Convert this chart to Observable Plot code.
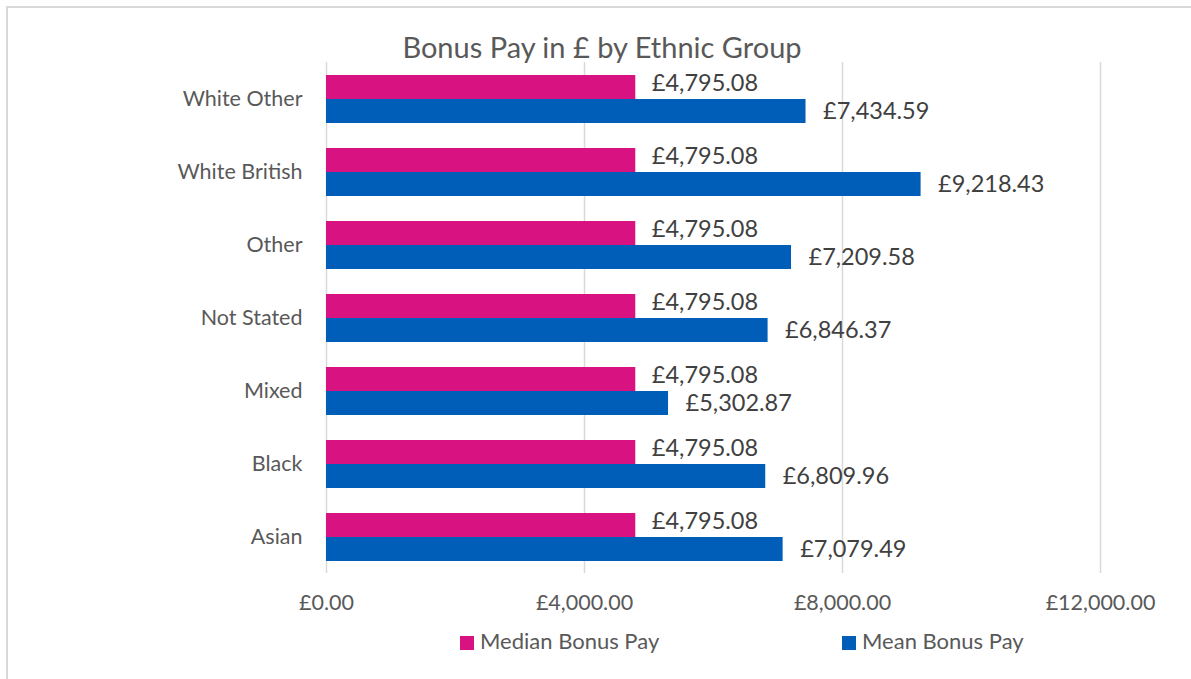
<!DOCTYPE html>
<html>
<head>
<meta charset="utf-8">
<script src="https://cdn.jsdelivr.net/npm/d3@7"></script>
<script src="https://cdn.jsdelivr.net/npm/@observablehq/plot@0.6"></script>
<style>
  html, body { margin: 0; padding: 0; background: #fff; }
  #wrap { position: relative; width: 1191px; height: 679px; font-family: Lato, "Open Sans", sans-serif; overflow: hidden; }
  #border { position: absolute; left: 6px; top: 6px; width: 1200px; height: 700px; border: 2px solid #d9d9d9; box-sizing: border-box; }
  #title { position: absolute; left: 0; width: 1204px; top: 29px; text-align: center; font-size: 29px; color: #595959; line-height: 36px; }
  .leg { position: absolute; top: 627px; font-size: 22px; color: #595959; line-height: 28px; white-space: nowrap; }
  .sw { display: inline-block; width: 14px; height: 14px; vertical-align: -1px; margin-right: 6px; }
  #chart { position: absolute; left: 0; top: 0; }
</style>
</head>
<body>
<div id="wrap">
  <div id="border"></div>
  <div id="chart"></div>
  <div id="title">Bonus Pay in £ by Ethnic Group</div>
  <div class="leg" style="left:460px"><span class="sw" style="background:#D91281"></span>Median Bonus Pay</div>
  <div class="leg" style="left:842px"><span class="sw" style="background:#005EB8"></span>Mean Bonus Pay</div>
</div>
<script>
const categories = ["White Other", "White British", "Other", "Not Stated", "Mixed", "Black", "Asian"];
const series = ["Median Bonus Pay", "Mean Bonus Pay"];
const medianValues = [4795.08, 4795.08, 4795.08, 4795.08, 4795.08, 4795.08, 4795.08];
const meanValues = [7434.59, 9218.43, 7209.58, 6846.37, 5302.87, 6809.96, 7079.49];
const xTicks = [0, 4000, 8000, 12000];
const colors = ["#D91281", "#005EB8"];

const data = [];
categories.forEach((c, i) => {
  data.push({category: c, series: series[0], value: medianValues[i]});
  data.push({category: c, series: series[1], value: meanValues[i]});
});
const medianData = data.filter(d => d.series === series[0]);
const meanData = data.filter(d => d.series === series[1]);
const money = d => "£" + d3.format(",.2f")(d);

const labelOpts = {x: "value", y: "series", fy: "category", text: d => money(d.value), textAnchor: "start", fill: "#404040", fontSize: 23.5, lineHeight: 0.9};

const plot = Plot.plot({
  width: 1191,
  height: 679,
  marginLeft: 326,
  marginRight: 91,
  marginTop: 61,
  marginBottom: 106,
  style: {fontFamily: "Lato, 'Open Sans', sans-serif", fontSize: "21.5px", color: "#595959", background: "transparent"},
  x: {domain: [0, 12000], ticks: xTicks, tickFormat: money, tickSize: 0, tickPadding: 21, label: null},
  fy: {domain: categories, padding: 0, label: null, tickSize: 0, tickPadding: 24, axis: "left"},
  y: {domain: series, axis: null, paddingInner: 0, paddingOuter: 0.49},
  color: {domain: series, range: colors},
  marks: [
    Plot.ruleX(xTicks, {stroke: "#d9d9d9", strokeWidth: 1.5}),
    Plot.barX(data, {x: "value", y: "series", fy: "category", fill: "series"}),
    Plot.text(medianData, {...labelOpts, dx: 16, dy: -3}),
    Plot.text(meanData, {...labelOpts, dx: 17, dy: 1})
  ]
});
document.getElementById("chart").appendChild(plot);
</script>
</body>
</html>
